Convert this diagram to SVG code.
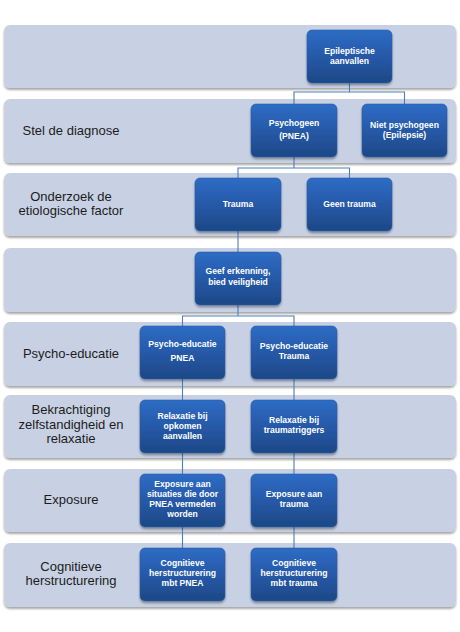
<svg xmlns="http://www.w3.org/2000/svg" width="460" height="632" viewBox="0 0 460 632">
<defs>
<linearGradient id="ng" x1="0" y1="0" x2="0" y2="1">
<stop offset="0" stop-color="#2e6cc5"/>
<stop offset="0.5" stop-color="#2659a8"/>
<stop offset="1" stop-color="#1d4886"/>
</linearGradient>
<filter id="sh" x="-10%" y="-10%" width="120%" height="130%">
<feGaussianBlur in="SourceAlpha" stdDeviation="1.2"/>
<feOffset dx="0" dy="1.5" result="b"/>
<feComponentTransfer><feFuncA type="linear" slope="0.35"/></feComponentTransfer>
<feMerge><feMergeNode/><feMergeNode in="SourceGraphic"/></feMerge>
</filter>
</defs>
<style>
.band{fill:#c8d1e3;filter:url(#sh)}
.node rect{fill:url(#ng);stroke:#2a5ba3;stroke-width:0.6;filter:url(#sh)}
.node text{fill:#ffffff;font-family:"Liberation Sans",Arial,sans-serif;font-size:8.6px;font-weight:bold;text-anchor:middle}
.lbl{fill:#1c1c1c;font-family:"Liberation Sans",Arial,sans-serif;font-size:13px;text-anchor:middle}
.conn path{fill:none;stroke:#4f7db7;stroke-width:1.1}
</style>
<rect width="460" height="632" fill="#ffffff"/>
<g id="bands">
<rect class="band" x="4" y="25" width="452" height="63" rx="6"/>
<rect class="band" x="4" y="99" width="452" height="64" rx="6"/>
<rect class="band" x="4" y="173" width="452" height="63" rx="6"/>
<rect class="band" x="4" y="248" width="452" height="64" rx="6"/>
<rect class="band" x="4" y="322" width="452" height="64" rx="6"/>
<rect class="band" x="4" y="395" width="452" height="63" rx="6"/>
<rect class="band" x="4" y="469" width="452" height="63" rx="6"/>
<rect class="band" x="4" y="543" width="452" height="64" rx="6"/>
</g>
<g id="labels">
<text class="lbl" x="71" y="135">Stel de diagnose</text>
<text class="lbl" x="71" y="201">Onderzoek de</text>
<text class="lbl" x="71" y="215">etiologische factor</text>
<text class="lbl" x="71" y="358">Psycho-educatie</text>
<text class="lbl" x="71" y="414">Bekrachtiging</text>
<text class="lbl" x="71" y="429">zelfstandigheid en</text>
<text class="lbl" x="71" y="443">relaxatie</text>
<text class="lbl" x="71" y="504">Exposure</text>
<text class="lbl" x="71" y="571">Cognitieve</text>
<text class="lbl" x="71" y="585">herstructurering</text>
</g>
<g id="connectors" class="conn">
<path d="M349.5 83 V92 H404.5 V104 M349.5 92 H294 V104"/>
<path d="M294 157 V168 H349.5 V178 M294 168 H238 V178"/>
<path d="M238 231 V252"/>
<path d="M238 305 V316 H294 V326 M238 316 H182.5 V326"/>
<path d="M182.5 379 V400 M294 379 V400"/>
<path d="M182.5 453 V474 M294 453 V474"/>
<path d="M182.5 527 V548 M294 527 V548"/>
</g>
<g id="n-epi" class="node"><rect x="307" y="30" width="85" height="53" rx="5"/><text x="349.5" y="54">Epileptische</text><text x="349.5" y="64">aanvallen</text></g>
<g id="n-psychogeen" class="node"><rect x="251" y="104" width="86" height="53" rx="5"/><text x="294" y="126">Psychogeen</text><text x="294" y="139">(PNEA)</text></g>
<g id="n-niet" class="node"><rect x="362" y="104" width="85" height="53" rx="5"/><text x="404.5" y="128">Niet psychogeen</text><text x="404.5" y="138">(Epilepsie)</text></g>
<g id="n-trauma" class="node"><rect x="195" y="178" width="86" height="53" rx="5"/><text x="238" y="207">Trauma</text></g>
<g id="n-geen" class="node"><rect x="307" y="178" width="85" height="53" rx="5"/><text x="349.5" y="207">Geen trauma</text></g>
<g id="n-erkenning" class="node"><rect x="195" y="252" width="86" height="53" rx="5"/><text x="238" y="274">Geef erkenning,</text><text x="238" y="285">bied veiligheid</text></g>
<g id="n-pe-pnea" class="node"><rect x="140" y="326" width="85" height="53" rx="5"/><text x="182.5" y="347">Psycho-educatie</text><text x="182.5" y="361">PNEA</text></g>
<g id="n-pe-trauma" class="node"><rect x="251" y="326" width="86" height="53" rx="5"/><text x="294" y="349">Psycho-educatie</text><text x="294" y="359">Trauma</text></g>
<g id="n-rel-pnea" class="node"><rect x="140" y="400" width="85" height="53" rx="5"/><text x="182.5" y="419">Relaxatie bij</text><text x="182.5" y="429">opkomen</text><text x="182.5" y="439">aanvallen</text></g>
<g id="n-rel-trauma" class="node"><rect x="251" y="400" width="86" height="53" rx="5"/><text x="294" y="423">Relaxatie bij</text><text x="294" y="433">traumatriggers</text></g>
<g id="n-exp-pnea" class="node"><rect x="140" y="474" width="85" height="53" rx="5"/><text x="182.5" y="487">Exposure aan</text><text x="182.5" y="497">situaties die door</text><text x="182.5" y="507">PNEA vermeden</text><text x="182.5" y="517">worden</text></g>
<g id="n-exp-trauma" class="node"><rect x="251" y="474" width="86" height="53" rx="5"/><text x="294" y="497">Exposure aan</text><text x="294" y="507">trauma</text></g>
<g id="n-cog-pnea" class="node"><rect x="140" y="548" width="85" height="53" rx="5"/><text x="182.5" y="566">Cognitieve</text><text x="182.5" y="576">herstructurering</text><text x="182.5" y="586">mbt PNEA</text></g>
<g id="n-cog-trauma" class="node"><rect x="251" y="548" width="86" height="53" rx="5"/><text x="294" y="566">Cognitieve</text><text x="294" y="576">herstructurering</text><text x="294" y="586">mbt trauma</text></g>
</svg>
